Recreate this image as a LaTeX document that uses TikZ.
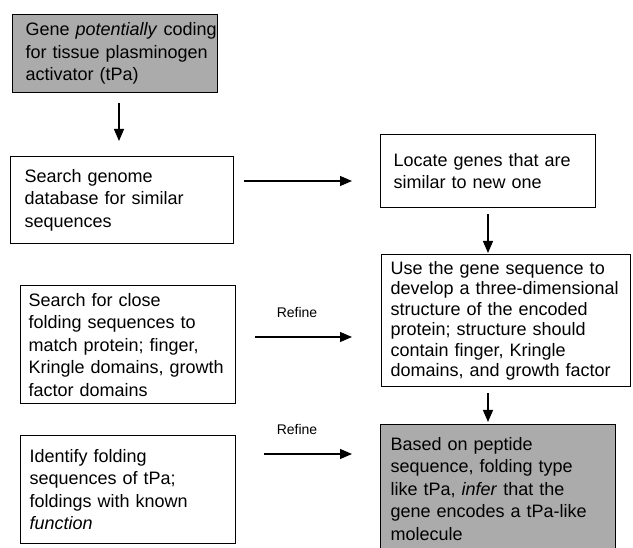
\documentclass[tikz,border=0pt]{standalone}
\usepackage{fontspec}
\setmainfont{Liberation Sans}
\usetikzlibrary{arrows.meta}
\newcommand{\oneline}[1]{\mbox{#1}}
\begin{document}
\begin{tikzpicture}[x=1pt,y=-1pt,
  box/.style={draw=black,line width=1.3pt,rectangle,anchor=north west,align=left,
    inner ysep=0pt,font=\fontsize{18}{22.5}\selectfont},
  tight/.style={font=\fontsize{18}{20.5}\selectfont},
  shaded/.style={fill=black!33},
  arr/.style={line width=1.2pt,-{Triangle[length=12pt,width=10pt]}},
  lbl/.style={font=\fontsize{14}{16}\selectfont,inner sep=0pt}]
\path[use as bounding box,clip] (0,0) rectangle (633,548);
\fill[white] (0,0) rectangle (633,548);
\node[box,shaded,inner xsep=13pt,text width=179pt,minimum height=78pt] (b1) at (12,14)
  {\oneline{Gene \textit{potentially} coding}\\\oneline{for tissue plasminogen}\\\oneline{activator (tPa)}};
\node[box,inner xsep=14pt,text width=195pt,minimum height=87pt] (b2) at (10,156)
  {\oneline{Search genome}\\\oneline{database for similar}\\\oneline{sequences}};
\node[box,inner xsep=13pt,text width=189pt,minimum height=73pt] (b3) at (380,134)
  {\oneline{Locate genes that are}\\\oneline{similar to new one}};
\node[box,tight,inner xsep=9pt,text width=231pt,minimum height=132pt] (b4) at (381,254)
  {\oneline{Use the gene sequence to}\\\oneline{develop a three-dimensional}\\\oneline{structure of the encoded}\\\oneline{protein; structure should}\\\oneline{contain finger, Kringle}\\\oneline{domains, and growth factor}};
\node[box,inner xsep=8pt,text width=199pt,minimum height=118pt] (b5) at (20,285)
  {\oneline{Search for close}\\\oneline{folding sequences to}\\\oneline{match protein; finger,}\\\oneline{Kringle domains, growth}\\\oneline{factor domains}};
\node[box,shaded,inner xsep=10pt,inner ysep=12.5pt,text width=215pt] (b6) at (380,424)
  {\oneline{Based on peptide}\\\oneline{sequence, folding type}\\\oneline{like tPa, \textit{infer} that the}\\\oneline{gene encodes a tPa-like}\\\oneline{molecule}};
\node[box,inner xsep=9pt,text width=197pt,minimum height=108pt] (b7) at (20,435)
  {\oneline{Identify folding}\\\oneline{sequences of tPa;}\\\oneline{foldings with known}\\\oneline{\textit{function}}};
\node[lbl] (r1) at (297,312) {Refine};
\node[lbl] (r2) at (297,429) {Refine};
\coordinate (x1) at (119,0);
\coordinate (y2) at (0,181);
\coordinate (x3) at (488,0);
\coordinate (y4) at (0,337);
\coordinate (x5) at (488,0);
\coordinate (y6) at (0,454);
\draw[arr,shorten <=10pt,shorten >=15pt] (b1.south -| x1) -- (b2.north -| x1);
\draw[arr,shorten <=10pt,shorten >=28pt] (b2.east |- y2) -- (b3.west |- y2);
\draw[arr,shorten <=6pt,shorten >=1pt] (b3.south -| x3) -- (b4.north -| x3);
\draw[arr,shorten <=19pt,shorten >=29pt] (b5.east |- y4) -- (b4.west |- y4);
\draw[arr,shorten <=6pt,shorten >=2pt] (b4.south -| x5) -- (b6.north -| x5);
\draw[arr,shorten <=28pt,shorten >=28pt] (b7.east |- y6) -- (b6.west |- y6);
\end{tikzpicture}
\end{document}
